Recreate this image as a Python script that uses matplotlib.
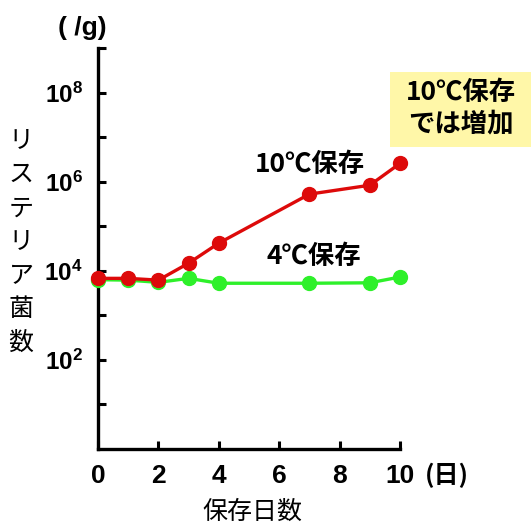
import matplotlib.pyplot as plt
import matplotlib.patches as mpatches
import numpy as np

plt.rcParams['font.family'] = ['Noto Sans CJK JP', 'DejaVu Sans']
plt.rcParams['mathtext.fontset'] = 'custom'
plt.rcParams['mathtext.rm'] = 'Liberation Sans'
plt.rcParams['mathtext.bf'] = 'Liberation Sans:bold'

# data (log10 of count per g)
days = [0, 1, 2, 3, 4, 7, 9, 10]
log_10c = [3.83, 3.83, 3.79, 4.17, 4.62, 5.72, 5.92, 6.41]
log_4c = [3.80, 3.79, 3.74, 3.83, 3.72, 3.72, 3.73, 3.86]

x_ticks = [0, 2, 4, 6, 8, 10]
y_ticks = [1e1, 1e2, 1e3, 1e4, 1e5, 1e6, 1e7, 1e8, 1e9]
y_labels = ['', r'$\mathbf{10^2}$', '', r'$\mathbf{10^4}$', '', r'$\mathbf{10^6}$', '',
            r'$\mathbf{10^8}$', '']

red = '#dd0a0a'
green = '#2ef02a'

fig = plt.figure(figsize=(5.31, 5.25), dpi=100)
ax = fig.add_axes([98 / 531, 1 - 449 / 525, 302 / 531, 401 / 525])

ax.plot(days, 10 ** np.array(log_4c), color=green, lw=2.4, marker='o', ms=10,
        clip_on=False, zorder=3)
ax.plot(days, 10 ** np.array(log_10c), color=red, lw=2.4, marker='o', ms=10,
        clip_on=False, zorder=4)

ax.set_yscale('log')
ax.set_xlim(0, 10)
ax.set_ylim(1, 1e9)
ax.yaxis.set_minor_locator(plt.NullLocator())
ax.set_yticks(y_ticks)
ax.set_yticklabels(y_labels, fontsize=17.5)
ax.set_xticks(x_ticks)
ax.set_xticklabels([str(t) for t in x_ticks], fontsize=19, fontweight='bold',
                   family='Liberation Sans')

for s in ['top', 'right']:
    ax.spines[s].set_visible(False)
for s in ['left', 'bottom']:
    ax.spines[s].set_linewidth(2.4)
ax.tick_params(direction='in', length=6, width=2.2)
ax.tick_params(axis='x', pad=11)
ax.tick_params(axis='y', pad=11)

# labels
fig.text(82 / 531, 1 - 28 / 525, '( /g)', fontsize=19, fontweight='bold',
         family='Liberation Sans', ha='center', va='center')
fig.text(447 / 531, 1 - 475 / 525, '(日)', fontsize=18, fontweight='bold',
         ha='center', va='center')
fig.text(252 / 531, 1 - 512 / 525, '保存日数', fontsize=18, ha='center', va='center')
fig.text(21 / 531, 1 - 242 / 525, 'リ\nス\nテ\nリ\nア\n菌\n数', fontsize=18,
         ha='center', va='center', linespacing=1.38)

fig.text(310 / 531, 1 - 165 / 525, '10℃保存', fontsize=19, fontweight='bold',
         ha='center', va='center')
fig.text(314 / 531, 1 - 256 / 525, '4℃保存', fontsize=19, fontweight='bold',
         ha='center', va='center')

# yellow note box
fig.patches.append(mpatches.Rectangle((390 / 531, 1 - 147 / 525), 141 / 531, 75 / 525,
                                      transform=fig.transFigure, fc='#fff7a8', ec='none',
                                      zorder=0))
fig.text(461 / 531, 1 - 108 / 525, '10℃保存\nでは増加', fontsize=19, fontweight='bold',
         ha='center', va='center', linespacing=1.2)

fig.savefig('out.png', dpi=100)
